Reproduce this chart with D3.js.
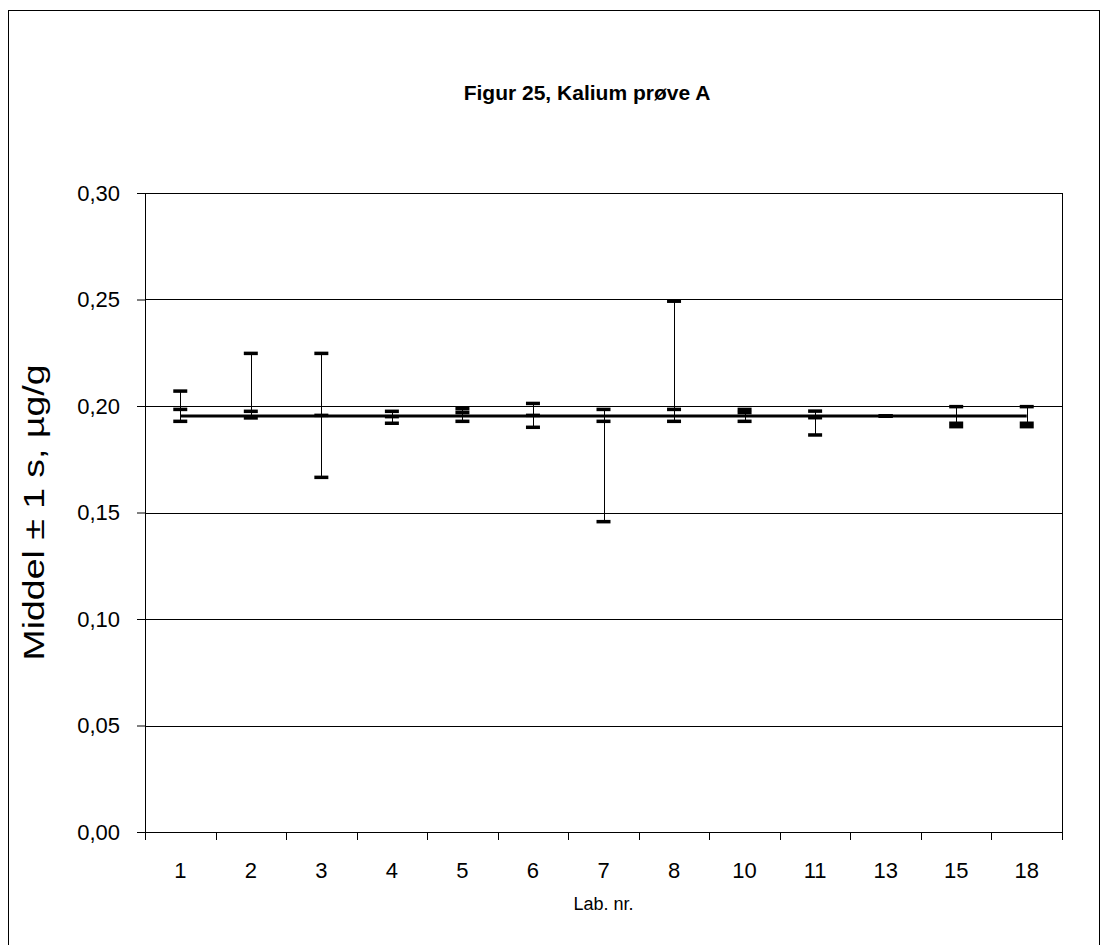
<!DOCTYPE html>
<html>
<head>
<meta charset="utf-8">
<script src="https://cdn.jsdelivr.net/npm/d3@7"></script>
<style>
  body { margin: 0; background: #fff; }
  svg { font-family: Arial, "Liberation Sans", sans-serif; }
</style>
</head>
<body>
<div id="chart"></div>
<script>
// Lab numbers on the x axis
const labs = ['1', '2', '3', '4', '5', '6', '7', '8', '10', '11', '13', '15', '18'];
// mean + 1 s, mean, mean - 1 s (µg/g)
const highs = [0.2070, 0.2247, 0.2247, 0.1975, 0.1987, 0.2012, 0.1984, 0.2492, 0.1984, 0.1976, 0.1953, 0.1997, 0.1997];
const means = [0.1984, 0.1975, 0.1956, 0.1950, 0.1969, 0.1956, 0.1928, 0.1984, 0.1969, 0.1945, 0.1953, 0.1919, 0.1919];
const lows  = [0.1928, 0.1944, 0.1665, 0.1919, 0.1928, 0.1900, 0.1457, 0.1928, 0.1928, 0.1864, 0.1953, 0.1903, 0.1903];
// assigned value, drawn across all labs
const refValue = 0.1953;
const yTicks = [0, 0.05, 0.10, 0.15, 0.20, 0.25, 0.30];

const width = 1110, height = 945;
const margin = { top: 193, right: 48, bottom: 113, left: 145 };
const innerW = width - margin.left - margin.right;
const innerH = height - margin.top - margin.bottom;
const font = 'Arial, "Liberation Sans", sans-serif';

const svg = d3.select('#chart').append('svg')
  .attr('width', width)
  .attr('height', height);

// chart frame
svg.append('rect')
  .attr('x', 8.5).attr('y', 10.5)
  .attr('width', 1091).attr('height', 960)
  .attr('fill', '#fff')
  .attr('stroke', '#000')
  .attr('stroke-width', 1);

svg.append('text')
  .attr('x', 587).attr('y', 100)
  .attr('text-anchor', 'middle')
  .attr('font-size', 21)
  .attr('font-weight', 'bold')
  .text('Figur 25, Kalium prøve A');

const g = svg.append('g')
  .attr('transform', `translate(${margin.left},${margin.top})`);

const x = d3.scaleBand().domain(labs).range([0, innerW]);
const y = d3.scaleLinear().domain([0, 0.30]).range([innerH, 0]);
const fmt = d => d3.format('.2f')(d).replace('.', ',');

// gridlines
g.selectAll('.grid')
  .data(yTicks.filter(t => t > 0))
  .join('line')
  .attr('class', 'grid')
  .attr('x1', 0).attr('x2', innerW)
  .attr('y1', d => Math.round(y(d)) + 0.5)
  .attr('y2', d => Math.round(y(d)) + 0.5)
  .attr('stroke', '#000')
  .attr('stroke-width', 1);

// plot area right edge
g.append('line')
  .attr('x1', innerW + 0.5).attr('x2', innerW + 0.5)
  .attr('y1', 0).attr('y2', innerH)
  .attr('stroke', '#000');

// y axis
const yAxis = g.append('g')
  .call(d3.axisLeft(y).tickValues(yTicks).tickFormat(fmt).tickSize(8).tickPadding(17));
yAxis.selectAll('text').attr('font-size', 22).attr('fill', '#000').attr('font-family', font);
yAxis.selectAll('line, path').attr('stroke', '#000');

// x axis: ticks at category boundaries
const xAxis = g.append('g')
  .attr('transform', `translate(0,${innerH})`)
  .call(d3.axisBottom(x).tickSize(0).tickPadding(30));
xAxis.selectAll('text').attr('font-size', 22).attr('fill', '#000').attr('font-family', font);
xAxis.select('path').attr('stroke', '#000');
xAxis.selectAll('.bound')
  .data(d3.range(labs.length + 1))
  .join('line')
  .attr('class', 'bound')
  .attr('x1', i => Math.round(i * x.step()) + 0.5)
  .attr('x2', i => Math.round(i * x.step()) + 0.5)
  .attr('y1', 0).attr('y2', 8)
  .attr('stroke', '#000');

// axis titles
svg.append('text')
  .attr('transform', `translate(44,${margin.top + innerH / 2}) rotate(-90)`)
  .attr('text-anchor', 'middle')
  .attr('font-size', 29)
  .attr('textLength', 296)
  .attr('lengthAdjust', 'spacingAndGlyphs')
  .text('Middel ± 1 s, µg/g');

svg.append('text')
  .attr('x', margin.left + innerW / 2).attr('y', 910)
  .attr('text-anchor', 'middle')
  .attr('font-size', 18)
  .text('Lab. nr.');

const cx = d => x(d) + x.bandwidth() / 2;

// vertical ±1 s lines
g.selectAll('.whisker')
  .data(labs)
  .join('line')
  .attr('class', 'whisker')
  .attr('x1', d => Math.round(cx(d)) + 0.5)
  .attr('x2', d => Math.round(cx(d)) + 0.5)
  .attr('y1', (d, i) => y(highs[i]))
  .attr('y2', (d, i) => y(lows[i]))
  .attr('stroke', '#000')
  .attr('stroke-width', 1);

// reference line
g.append('line')
  .attr('x1', cx(labs[0])).attr('x2', cx(labs[labs.length - 1]))
  .attr('y1', y(refValue)).attr('y2', y(refValue))
  .attr('stroke', '#000')
  .attr('stroke-width', 3);

// dash markers for high, mean, low
const markers = [];
labs.forEach((d, i) => {
  markers.push({ lab: d, v: highs[i] }, { lab: d, v: means[i] }, { lab: d, v: lows[i] });
});
g.selectAll('.marker')
  .data(markers)
  .join('line')
  .attr('class', 'marker')
  .attr('x1', d => cx(d.lab) - 7)
  .attr('x2', d => cx(d.lab) + 7)
  .attr('y1', d => y(d.v))
  .attr('y2', d => y(d.v))
  .attr('stroke', '#000')
  .attr('stroke-width', 3.5);
</script>
</body>
</html>
